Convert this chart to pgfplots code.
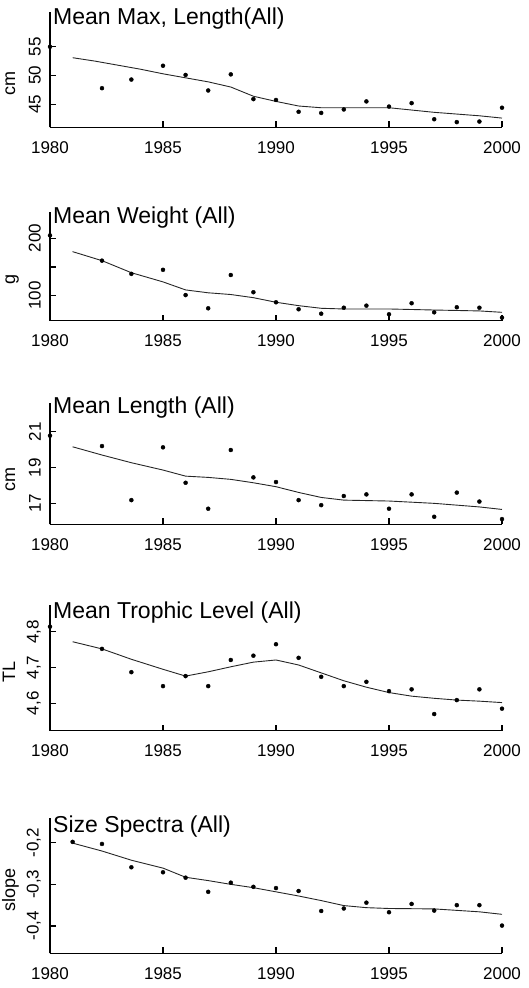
\documentclass[border=0pt]{standalone}
\usepackage{fontspec}
\setmainfont{Liberation Sans}
\usepackage{pgfplots}
\pgfplotsset{compat=1.18}

\pgfplotsset{
  panel/.style={
    scale only axis, width=452pt,
    xmin=1980, xmax=2000,
    axis lines=left,
    x axis line style={-}, y axis line style={-},
    axis line style={line width=1.3pt, black},
    tick align=inside, major tick length=6pt,
    tick style={line width=1.2pt, black},
    xtick={1980,1985,1990,1995,2000},
    xticklabels={1980,1985,1990,1995,2000},
    xticklabel style={font=\fontsize{17}{17}\selectfont, inner sep=0pt, anchor=north},
    xticklabel shift=14pt,
    yticklabel style={font=\fontsize{17}{17}\selectfont, rotate=90, anchor=south, inner sep=0pt},
    yticklabel shift=9pt,
    ylabel style={font=\fontsize{18}{18}\selectfont, anchor=base, rotate=0},
    title style={at={(rel axis cs:0,1)}, anchor=base west, inner sep=0pt,
      xshift=3pt, font=\fontsize{23}{23}\selectfont},
    clip=false, axis on top=false,
  },
  pts/.style={only marks, mark=*, mark size=2pt, black},
  fit/.style={no marks, black!85, line width=0.9pt},
}

\begin{document}
\begin{tikzpicture}
\useasboundingbox (0pt,0pt) rectangle (529pt,988pt);

% Mean max length
\begin{axis}[panel, at={(50pt,860.7pt)}, anchor=south west, height=115.6pt,
  ymin=41, ymax=61.1, ytick={45,50,55}, yticklabels={45,50,55},
  ylabel={cm}, ylabel style={at={(rel axis cs:-0.0774,0.38)}},
  title={Mean Max, Length(All)}, title style={yshift=-19.3pt}]
\addplot[pts] coordinates {
  (1980,55.0) (1982.3,47.8) (1983.6,49.3) (1985,51.7) (1986,50.1) (1987,47.4)
  (1988,50.2) (1989,45.9) (1990,45.75) (1991,43.7) (1992,43.5) (1993,44.1)
  (1994,45.5) (1995,44.6) (1996,45.2) (1997,42.4) (1998,41.9) (1999,42.0) (2000,44.4)
};
\addplot[fit] coordinates {
  (1981,53.1) (1982,52.5) (1983,51.8) (1984,51.1) (1985,50.3) (1986,49.6)
  (1987,48.9) (1988,48.0) (1989,46.4) (1990,45.5) (1991,44.7) (1992,44.4)
  (1993,44.4) (1994,44.4) (1995,44.4) (1996,44.0) (1997,43.6) (1998,43.3)
  (1999,43.0) (2000,42.6)
};
\end{axis}

% Mean weight
\begin{axis}[panel, at={(50pt,667.3pt)}, anchor=south west, height=109pt,
  ymin=56.4, ymax=246.3, ytick={100,150,200}, yticklabels={100,,200},
  ylabel={g}, ylabel style={at={(rel axis cs:-0.0774,0.38)}},
  title={Mean Weight (All)}, title style={yshift=-17.6pt}]
\addplot[pts] coordinates {
  (1980,205) (1982.3,161) (1983.6,138) (1985,145) (1986,101) (1987,78)
  (1988,136) (1989,106) (1990,88.5) (1991,76.3) (1992,68.6) (1993,79)
  (1994,82.6) (1995,67.6) (1996,86.8) (1997,71) (1998,79.8) (1999,79) (2000,61.7)
};
\addplot[fit] coordinates {
  (1981,176.7) (1982.3,161) (1983.6,140) (1985,124) (1986,110) (1987,105)
  (1988,102) (1989,96.5) (1990,88.5) (1991,82.6) (1992,78) (1993,76.8)
  (1995,76.8) (1997,75) (1999,73.4) (2000,71)
};
\end{axis}

% Mean length
\begin{axis}[panel, at={(50pt,463.7pt)}, anchor=south west, height=121pt,
  ymin=15.83, ymax=22.59, ytick={17,19,21}, yticklabels={17,19,21},
  ylabel={cm}, ylabel style={at={(rel axis cs:-0.0774,0.37)}},
  title={Mean Length (All)}, title style={yshift=-16.7pt}]
\addplot[pts] coordinates {
  (1980,20.78) (1982.3,20.2) (1983.6,17.18) (1985,20.13) (1986,18.15) (1987,16.7)
  (1988,19.98) (1989,18.45) (1990,18.19) (1991,17.18) (1992,16.9) (1993,17.41)
  (1994,17.5) (1995,16.7) (1996,17.5) (1997,16.25) (1998,17.6) (1999,17.1) (2000,16.12)
};
\addplot[fit] coordinates {
  (1981,20.16) (1982.3,19.7) (1983.6,19.27) (1985,18.86) (1986,18.52) (1987,18.45)
  (1988,18.34) (1989,18.15) (1990,17.93) (1991,17.61) (1992,17.33) (1993,17.18)
  (1995,17.13) (1997,17.0) (1999,16.8) (2000,16.66)
};
\end{axis}

% Mean trophic level
\begin{axis}[panel, at={(50pt,257.3pt)}, anchor=south west, height=125.7pt,
  ymin=4.5235, ymax=4.8746, ytick={4.6,4.7,4.8}, yticklabels={{4,6},{4,7},{4,8}},
  ylabel={TL}, ylabel style={at={(rel axis cs:-0.0774,0.47)}},
  title={Mean Trophic Level (All)}, title style={yshift=-20pt}]
\addplot[pts] coordinates {
  (1980,4.814) (1982.3,4.752) (1983.6,4.687) (1985,4.648) (1986,4.676) (1987,4.648)
  (1988,4.721) (1989,4.733) (1990,4.765) (1991,4.727) (1992,4.674) (1993,4.648)
  (1994,4.66) (1995,4.634) (1996,4.639) (1997,4.570) (1998,4.609) (1999,4.639) (2000,4.585)
};
\addplot[fit] coordinates {
  (1981,4.772) (1982.3,4.752) (1983.6,4.723) (1985,4.695) (1986,4.676) (1987,4.688)
  (1988,4.702) (1989,4.715) (1990,4.721) (1991,4.707) (1992,4.685) (1993,4.663)
  (1994,4.645) (1995,4.630) (1996,4.620) (1997,4.614) (1998,4.609) (1999,4.606) (2000,4.602)
};
\end{axis}

% Size spectra
\begin{axis}[panel, at={(50pt,34.7pt)}, anchor=south west, height=135pt,
  ymin=-0.4656, ymax=-0.1414, ytick={-0.4,-0.3,-0.2}, yticklabels={{-0,4},{-0,3},{-0,2}},
  ylabel={slope}, ylabel style={at={(rel axis cs:-0.0774,0.47)}},
  title={Size Spectra (All)}, title style={yshift=-20pt}]
\addplot[pts] coordinates {
  (1981,-0.198) (1982.3,-0.203) (1983.6,-0.259) (1985,-0.271) (1986,-0.284) (1987,-0.318)
  (1988,-0.296) (1989,-0.306) (1990,-0.309) (1991,-0.316) (1992,-0.364) (1993,-0.358)
  (1994,-0.344) (1995,-0.367) (1996,-0.347) (1997,-0.363) (1998,-0.350) (1999,-0.350) (2000,-0.399)
};
\addplot[fit] coordinates {
  (1981,-0.201) (1982.3,-0.220) (1983.6,-0.242) (1985,-0.261) (1986,-0.283) (1987,-0.291)
  (1988,-0.300) (1989,-0.308) (1990,-0.318) (1991,-0.328) (1992,-0.339) (1993,-0.351)
  (1994,-0.356) (1995,-0.358) (1997,-0.359) (1999,-0.366) (2000,-0.372)
};
\end{axis}
\end{tikzpicture}
\end{document}
